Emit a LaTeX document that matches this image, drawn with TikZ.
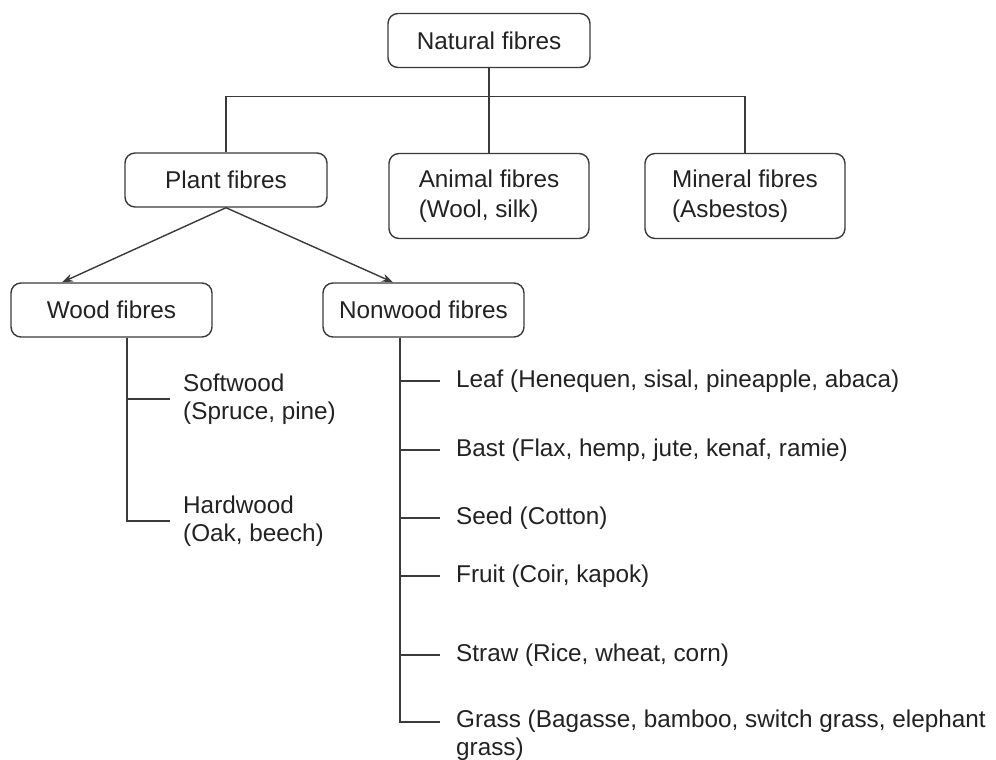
\documentclass[tikz,border=0pt]{standalone}
\usepackage{fontspec}
\setmainfont{Liberation Sans}
\usepackage{tikz}
\usetikzlibrary{arrows, arrows.meta}
\definecolor{ink}{HTML}{222222}
\definecolor{linegray}{HTML}{3A3A3A}
\tikzstyle{fibre} = [rectangle, rounded corners=10pt, minimum width=202pt, minimum height=54pt, text centered, draw=linegray, line width=1.4pt, text=ink]
\tikzstyle{fibretwo} = [fibre, minimum width=200pt, minimum height=85pt, align=left, font=\fontsize{24.3}{30}\selectfont]
\tikzstyle{item} = [anchor=west, align=left, inner sep=0pt, text=ink]
\tikzstyle{link} = [draw=linegray, line width=1.4pt]
\tikzstyle{arrow} = [link,->,>={Stealth[length=11pt,width=8pt]}]

\begin{document}
\begin{tikzpicture}[x=1pt, y=-1pt, font=\fontsize{24.3}{28}\selectfont]
\useasboundingbox (0,0) rectangle (996,760);
\node (natural) [fibre] at (489,40.5) {Natural fibres};
\node (plant) [fibre] at (226,180) {Plant fibres};
\node (animal) [fibretwo] at (489,196) {Animal fibres\\(Wool, silk)};
\node (mineral) [fibretwo] at (745,196) {Mineral fibres\\(Asbestos)};
\node (wood) [fibre, minimum width=201pt] at (111.5,310) {Wood fibres};
\node (nonwood) [fibre, minimum width=201pt] at (423.5,310) {Nonwood fibres};

% wood types
\node (soft) [item] at (183,399) {Softwood\\(Spruce, pine)};
\node (hard) [item] at (183,521) {Hardwood\\(Oak, beech)};

% nonwood types
\node (leaf) [item] at (456,381) {Leaf (Henequen, sisal, pineapple, abaca)};
\node (bast) [item] at (456,450) {Bast (Flax, hemp, jute, kenaf, ramie)};
\node (seed) [item] at (456,518) {Seed (Cotton)};
\node (fruit) [item] at (456,576) {Fruit (Coir, kapok)};
\node (straw) [item] at (456,655) {Straw (Rice, wheat, corn)};
\node (grass) [item] at (456,735) {Grass (Bagasse, bamboo, switch grass, elephant\\grass)};

\draw [link] (natural.south) -- (animal.north);
\draw [link] (plant.north) -- ++(0,-56) -| (mineral.north);
\draw [arrow] (plant.south) -- ([xshift=-49.5pt]wood.north);
\draw [arrow] (plant.south) -- ([xshift=-30.5pt]nonwood.north);

\draw [link, shorten >=13pt] ([xshift=15.5pt]wood.south) |- (soft.west);
\draw [link, shorten >=13pt] ([xshift=15.5pt]wood.south) |- (hard.west);

\foreach \t in {leaf, bast, seed, fruit, straw}
  \draw [link, shorten >=16pt] ([xshift=-23.5pt]nonwood.south) |- (\t.west);
\draw [link, shorten >=16pt] ([xshift=-23.5pt]nonwood.south) |- ([yshift=13pt]grass.west);
\end{tikzpicture}
\end{document}
